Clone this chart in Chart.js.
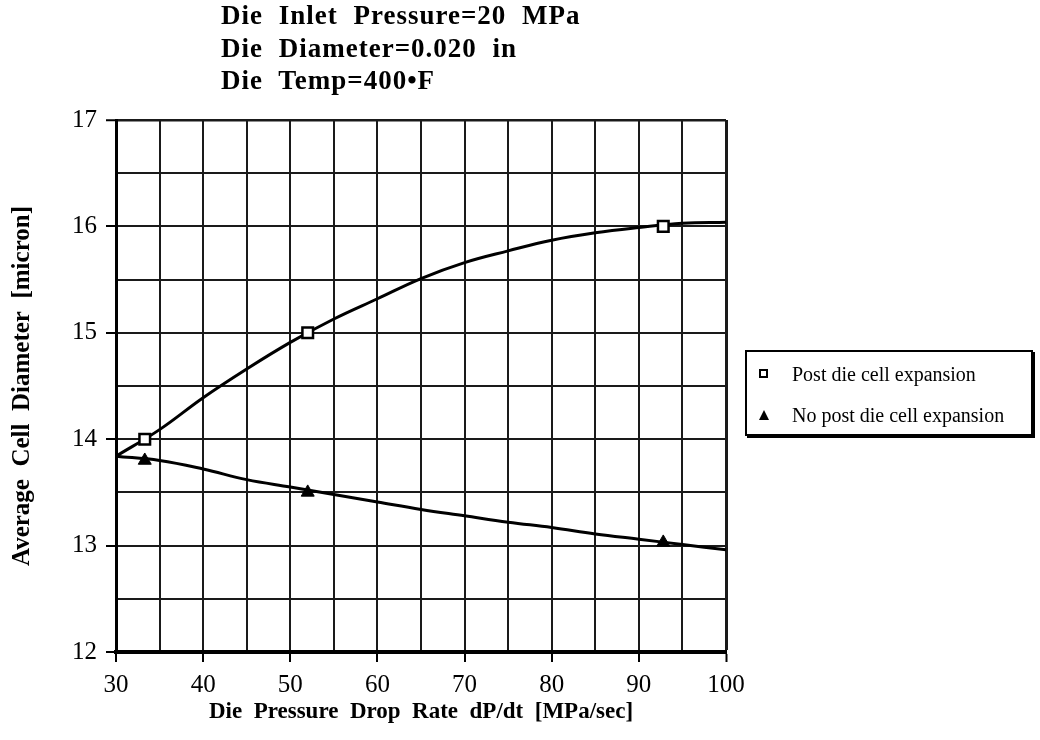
<!DOCTYPE html>
<html>
<head>
<meta charset="utf-8">
<script src="https://cdn.jsdelivr.net/npm/chart.js@4"></script>
<style>
    body { margin: 0; background: #fff; }
    #wrap { position: relative; width: 1040px; height: 740px; }
    #chart { position: absolute; left: 0; top: 0; }
    #title {
        position: absolute; left: 221px; top: -1px;
        font: bold 27px "Liberation Serif", serif; line-height: 32.5px;
        letter-spacing: 1px; word-spacing: 8px; color: #000;
    }
    #legend {
        position: absolute; left: 745px; top: 350px; width: 284px; height: 82px;
        border: 2px solid #000; box-shadow: 2px 2px 0 #000; background: #fff;
        font: 20px "Liberation Serif", serif; color: #000;
    }
    .row { position: absolute; left: 0; height: 22px; line-height: 22px; }
    .row span.txt { position: absolute; left: 45px; white-space: nowrap; }
    .sq { position: absolute; left: 12px; top: 6px; width: 5px; height: 5px; border: 2px solid #000; background: #fff; }
    .tri { position: absolute; left: 12px; top: 6px; width: 0; height: 0;
        border-left: 5px solid transparent; border-right: 5px solid transparent; border-bottom: 10px solid #000; }
</style>
</head>
<body>
<div id="wrap">
    <canvas id="chart" width="1040" height="740"></canvas>
    <div id="title">Die Inlet Pressure=20 MPa<br>Die Diameter=0.020 in<br>Die Temp=400•F</div>
    <div id="legend">
        <div class="row" style="top:11px"><span class="sq"></span><span class="txt">Post die cell expansion</span></div>
        <div class="row" style="top:52px"><span class="tri"></span><span class="txt">No post die cell expansion</span></div>
    </div>
</div>
<script>
// Measured points
const pointX = [33.3, 52, 92.8];
const postValues = [14.0, 15.0, 16.0];
const noPostValues = [13.8, 13.5, 13.03];

// Fitted curves, read every 5 MPa/sec
const curveX = [30, 35, 40, 45, 50, 55, 60, 65, 70, 75, 80, 85, 90, 95, 100];
const postCurve = [13.84, 14.09, 14.39, 14.66, 14.91, 15.13, 15.32, 15.51, 15.66, 15.77, 15.87, 15.94, 15.99, 16.03, 16.04];
const noPostCurve = [13.84, 13.80, 13.72, 13.62, 13.55, 13.48, 13.41, 13.34, 13.28, 13.22, 13.17, 13.11, 13.06, 13.01, 12.96];

// double spaces keep the wide word gaps of the original
const xLabel = 'Die  Pressure  Drop  Rate  dP/dt  [MPa/sec]';
const yLabel = 'Average  Cell  Diameter  [micron]';

const pairs = (xs, ys) => xs.map((x, i) => ({ x: x, y: ys[i] }));

const serif = '"Liberation Serif", "Times New Roman", serif';

new Chart(document.getElementById('chart'), {
    type: 'scatter',
    data: {
        datasets: [
            {
                label: 'Post die cell expansion',
                data: pairs(pointX, postValues),
                pointStyle: 'rect',
                pointRadius: 7.5,
                backgroundColor: '#fff',
                borderColor: '#000',
                borderWidth: 2.5,
                order: 0
            },
            {
                label: 'No post die cell expansion',
                data: pairs(pointX, noPostValues),
                pointStyle: 'triangle',
                pointRadius: 7.5,
                backgroundColor: '#000',
                borderColor: '#000',
                borderWidth: 1,
                order: 0
            },
            {
                label: 'post fit',
                data: pairs(curveX, postCurve),
                showLine: true,
                pointRadius: 0,
                borderColor: '#000',
                borderWidth: 3,
                tension: 0.4,
                order: 1
            },
            {
                label: 'no post fit',
                data: pairs(curveX, noPostCurve),
                showLine: true,
                pointRadius: 0,
                borderColor: '#000',
                borderWidth: 3,
                tension: 0.4,
                order: 1
            }
        ]
    },
    options: {
        responsive: false,
        animation: false,
        layout: { padding: { top: 120, right: 314, left: 0, bottom: 0 } },
        plugins: {
            legend: { display: false },
            tooltip: { enabled: false }
        },
        scales: {
            x: {
                type: 'linear',
                min: 30, max: 100,
                afterFit: (s) => { s.height = 88; },
                border: { color: '#000', width: 4 },
                grid: {
                    color: '#1a1a1a',
                    lineWidth: (c) => c.tick && c.tick.value === 100 ? 3 : 2,
                    tickLength: 10,
                    tickColor: (c) => c.tick && c.tick.value % 10 === 0 ? '#000' : 'rgba(0,0,0,0)',
                    tickWidth: 2
                },
                ticks: {
                    stepSize: 5,
                    color: '#000',
                    font: { family: serif, size: 25 },
                    padding: 8,
                    maxRotation: 0,
                    autoSkip: false,
                    callback: (v) => v % 10 === 0 ? v : ''
                },
                title: {
                    display: true,
                    text: xLabel,
                    color: '#000',
                    font: { family: serif, size: 23, weight: 'bold' },
                    padding: { top: 0, bottom: 14 }
                }
            },
            y: {
                type: 'linear',
                min: 12, max: 17,
                afterFit: (s) => { s.width = 116; },
                border: { color: '#000', width: 3 },
                grid: {
                    color: '#1a1a1a',
                    lineWidth: (c) => c.tick && c.tick.value === 17 ? 2.5 : 2,
                    tickLength: 10,
                    tickColor: (c) => c.tick && c.tick.value % 1 === 0 ? '#000' : 'rgba(0,0,0,0)',
                    tickWidth: 2
                },
                ticks: {
                    stepSize: 0.5,
                    color: '#000',
                    font: { family: serif, size: 25 },
                    padding: 9,
                    autoSkip: false,
                    callback: (v) => v % 1 === 0 ? v : ''
                },
                title: {
                    display: true,
                    text: yLabel,
                    color: '#000',
                    font: { family: serif, size: 25, weight: 'bold' },
                    padding: { top: 8, bottom: 0 }
                }
            }
        }
    }
});
</script>
</body>
</html>
